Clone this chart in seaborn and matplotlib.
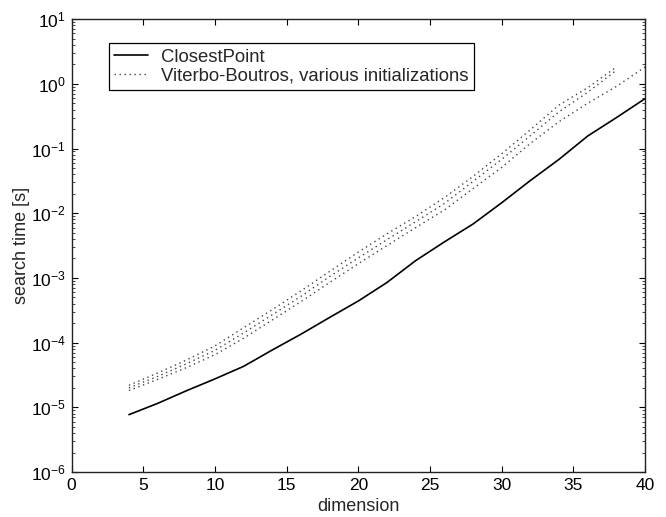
import matplotlib
matplotlib.use("Agg")
import matplotlib.pyplot as plt
import matplotlib.ticker as mticker
import seaborn as sns

# ---- data ----
dim_cp = [4, 6, 8, 10, 12, 14, 16, 18, 20, 22, 24, 26, 28, 30, 32, 34, 36, 38, 40]
closest_point = [7.7e-6, 1.15e-5, 1.8e-5, 2.75e-5, 4.3e-5, 7.7e-5, 1.35e-4, 2.45e-4,
                 4.4e-4, 8.5e-4, 1.85e-3, 3.6e-3, 6.8e-3, 1.45e-2, 3.2e-2, 6.8e-2,
                 0.156, 0.30, 0.59]

dim_vb_a = [4, 6, 8, 10, 12, 14, 16, 18, 20, 22, 24, 26, 28, 30, 32, 34, 36, 38]
vb_a = [2.19e-5, 3.39e-5, 5.37e-5, 8.9e-5, 1.70e-4, 3.24e-4, 6.3e-4, 1.26e-3,
        2.51e-3, 4.8e-3, 8.9e-3, 1.74e-2, 3.7e-2, 8.3e-2, 0.195, 0.47, 0.87, 1.82]

dim_vb_b = [4, 6, 8, 10, 12, 14, 16, 18, 20, 22, 24, 26, 28, 30, 32, 34, 36, 38]
vb_b = [2.0e-5, 3.0e-5, 4.7e-5, 7.6e-5, 1.41e-4, 2.7e-4, 5.2e-4, 1.05e-3,
        2.04e-3, 3.9e-3, 7.4e-3, 1.41e-2, 3.1e-2, 6.8e-2, 0.158, 0.37, 0.74, 1.62]

dim_vb_c = [4, 6, 8, 10, 12, 14, 16, 18, 20, 22, 24, 26, 28, 30, 32, 34, 36, 38, 40]
vb_c = [1.82e-5, 2.7e-5, 4.1e-5, 6.5e-5, 1.17e-4, 2.24e-4, 4.3e-4, 8.5e-4,
        1.66e-3, 3.16e-3, 6.0e-3, 1.12e-2, 2.4e-2, 5.1e-2, 0.12, 0.26, 0.50, 0.91, 1.82]

x_ticks = [0, 5, 10, 15, 20, 25, 30, 35, 40]
label_cp = "ClosestPoint"
label_vb = "Viterbo-Boutros, various initializations"

# ---- style ----
sns.set_theme(style="ticks")
plt.rcParams["font.family"] = ["Liberation Sans", "DejaVu Sans"]
plt.rcParams["mathtext.default"] = "regular"
plt.rcParams["axes.linewidth"] = 1.0

fig = plt.figure(figsize=(6.66, 5.17), dpi=100)
ax = fig.add_axes([0.1075, 0.087, 0.861, 0.876])

dot_style = dict(color="#444444", linewidth=1.0, dashes=(1, 2.6))

sns.lineplot(x=dim_cp, y=closest_point, ax=ax, color="black", linewidth=1.2,
             linestyle="-", label=label_cp)
sns.lineplot(x=dim_vb_a, y=vb_a, ax=ax, label=label_vb, **dot_style)
sns.lineplot(x=dim_vb_b, y=vb_b, ax=ax, label="_nolegend_", **dot_style)
sns.lineplot(x=dim_vb_c, y=vb_c, ax=ax, label="_nolegend_", **dot_style)

ax.set_yscale("log")
ax.set_xlim(0, 40)
ax.set_ylim(1e-6, 10)
ax.set_xticks(x_ticks)
ax.yaxis.set_major_locator(mticker.LogLocator(base=10, numticks=20))
ax.yaxis.set_minor_locator(mticker.LogLocator(base=10, subs=range(2, 10), numticks=20))
ax.xaxis.set_minor_locator(mticker.NullLocator())
ax.xaxis.offsetText.set_visible(False)
ax.yaxis.offsetText.set_visible(False)

ax.tick_params(axis="both", which="major", direction="in", length=4.5, width=0.8,
               top=True, right=True, labelsize=12.5, colors="black", pad=4)
ax.tick_params(axis="y", which="minor", direction="in", length=2.5, width=0.6,
               left=True, right=True)
for s in ax.spines.values():
    s.set_color("#222222")
    s.set_visible(True)

ax.set_xlabel("dimension", fontsize=13, labelpad=4)
ax.set_ylabel("search time [s]", fontsize=13)
ax.yaxis.set_label_coords(-0.073, 0.5)

leg = ax.legend(loc="upper left", bbox_to_anchor=(0.065, 0.947), borderaxespad=0,
                fontsize=13.3, frameon=True, fancybox=False, edgecolor="black",
                handlelength=1.8, handletextpad=0.7, borderpad=0.3,
                labelspacing=0.1)
leg.get_frame().set_linewidth(0.9)
leg.get_frame().set_alpha(1)

fig.savefig("out.png", dpi=100, facecolor="white")
